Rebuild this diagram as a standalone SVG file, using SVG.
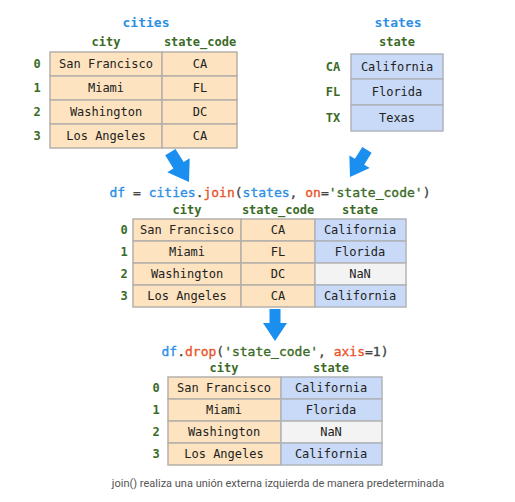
<svg xmlns="http://www.w3.org/2000/svg" width="515" height="502" viewBox="0 0 515 502">
<style>
  .cell { font-family: "DejaVu Sans Mono", "Liberation Mono", monospace; font-size: 12px; fill: #222; text-anchor: middle; dominant-baseline: central; }
  .hdr { font-family: "DejaVu Sans Mono", "Liberation Mono", monospace; font-size: 12px; font-weight: bold; fill: #3b6b26; text-anchor: middle; dominant-baseline: central; }
  .idx { font-family: "DejaVu Sans Mono", "Liberation Mono", monospace; font-size: 12px; font-weight: bold; fill: #3b6b26; text-anchor: middle; dominant-baseline: central; }
  .title { font-family: "DejaVu Sans Mono", "Liberation Mono", monospace; font-size: 13px; font-weight: bold; fill: #2b8fe6; text-anchor: middle; dominant-baseline: central; }
  .code { font-family: "DejaVu Sans Mono", "Liberation Mono", monospace; font-size: 13px; fill: #444; stroke: currentColor; text-anchor: middle; dominant-baseline: central; }
  .code tspan, .code { stroke-width: 0.35; }
  .code { color: #444; }
  .b { fill: #2b8fe6; stroke: #2b8fe6; }
  .o { fill: #e8552c; stroke: #e8552c; }
  .g { fill: #3b6b26; stroke: #3b6b26; }
  .or { fill: #fde3bf; stroke: #b5b0aa; stroke-width: 1.5; }
  .bl { fill: #c9daf8; stroke: #b0b4bb; stroke-width: 1.5; }
  .gr { fill: #f3f3f3; stroke: #b5b5b5; stroke-width: 1.5; }
  .arrow { fill: #1a8ff0; }
  .cap { font-family: Roboto, "Liberation Sans", sans-serif; font-size: 11px; fill: #555; text-anchor: middle; dominant-baseline: central; }
</style>
<defs>
  <path id="arr" d="M-5.5,-32 L5.5,-32 L5.5,-18 L12,-18 L0,0 L-12,-18 L-5.5,-18 Z"/>
</defs>
<rect width="515" height="502" fill="#ffffff"/>

<g id="cities">
  <text class="title" x="146" y="22">cities</text>
  <text class="hdr" x="106" y="42">city</text>
  <text class="hdr" x="200" y="42">state_code</text>
  <rect class="or" x="50" y="52" width="112" height="24"/>
  <rect class="or" x="162" y="52" width="75" height="24"/>
  <rect class="or" x="50" y="76" width="112" height="24"/>
  <rect class="or" x="162" y="76" width="75" height="24"/>
  <rect class="or" x="50" y="100" width="112" height="24"/>
  <rect class="or" x="162" y="100" width="75" height="24"/>
  <rect class="or" x="50" y="124" width="112" height="24"/>
  <rect class="or" x="162" y="124" width="75" height="24"/>
  <text class="idx" x="37" y="64">0</text>
  <text class="idx" x="37" y="88">1</text>
  <text class="idx" x="37" y="112">2</text>
  <text class="idx" x="37" y="136">3</text>
  <text class="cell" x="106" y="64">San Francisco</text>
  <text class="cell" x="200" y="64">CA</text>
  <text class="cell" x="106" y="88">Miami</text>
  <text class="cell" x="200" y="88">FL</text>
  <text class="cell" x="106" y="112">Washington</text>
  <text class="cell" x="200" y="112">DC</text>
  <text class="cell" x="106" y="136">Los Angeles</text>
  <text class="cell" x="200" y="136">CA</text>
</g>

<g id="states">
  <text class="title" x="398" y="22">states</text>
  <text class="hdr" x="397" y="42">state</text>
  <rect class="bl" x="351" y="54" width="92" height="25"/>
  <rect class="bl" x="351" y="79" width="92" height="26"/>
  <rect class="bl" x="351" y="105" width="92" height="26"/>
  <text class="idx" x="333" y="67">CA</text>
  <text class="idx" x="333" y="92">FL</text>
  <text class="idx" x="333" y="118">TX</text>
  <text class="cell" x="397" y="67">California</text>
  <text class="cell" x="397" y="92">Florida</text>
  <text class="cell" x="397" y="118">Texas</text>
</g>

<g id="joined">
  <text class="code" x="270" y="192"><tspan class="b">df</tspan> = <tspan class="b">cities</tspan>.<tspan class="o">join</tspan>(<tspan class="b">states</tspan>, <tspan class="o">on</tspan>=<tspan class="g">'state_code'</tspan>)</text>
  <text class="hdr" x="187" y="210">city</text>
  <text class="hdr" x="278" y="210">state_code</text>
  <text class="hdr" x="360" y="210">state</text>
  <rect class="or" x="133" y="219" width="108" height="22"/>
  <rect class="or" x="241" y="219" width="74" height="22"/>
  <rect class="bl" x="315" y="219" width="91" height="22"/>
  <rect class="or" x="133" y="241" width="108" height="22"/>
  <rect class="or" x="241" y="241" width="74" height="22"/>
  <rect class="bl" x="315" y="241" width="91" height="22"/>
  <rect class="or" x="133" y="263" width="108" height="22"/>
  <rect class="or" x="241" y="263" width="74" height="22"/>
  <rect class="gr" x="315" y="263" width="91" height="22"/>
  <rect class="or" x="133" y="285" width="108" height="22"/>
  <rect class="or" x="241" y="285" width="74" height="22"/>
  <rect class="bl" x="315" y="285" width="91" height="22"/>
  <text class="idx" x="124" y="230">0</text>
  <text class="idx" x="124" y="252">1</text>
  <text class="idx" x="124" y="274">2</text>
  <text class="idx" x="124" y="296">3</text>
  <text class="cell" x="187" y="230">San Francisco</text>
  <text class="cell" x="278" y="230">CA</text>
  <text class="cell" x="360" y="230">California</text>
  <text class="cell" x="187" y="252">Miami</text>
  <text class="cell" x="278" y="252">FL</text>
  <text class="cell" x="360" y="252">Florida</text>
  <text class="cell" x="187" y="274">Washington</text>
  <text class="cell" x="278" y="274">DC</text>
  <text class="cell" x="360" y="274">NaN</text>
  <text class="cell" x="187" y="296">Los Angeles</text>
  <text class="cell" x="278" y="296">CA</text>
  <text class="cell" x="360" y="296">California</text>
</g>

<g id="dropped">
  <text class="code" x="275" y="351"><tspan class="b">df</tspan>.<tspan class="o">drop</tspan>(<tspan class="g">'state_code'</tspan>, <tspan class="o">axis</tspan>=1)</text>
  <text class="hdr" x="224" y="368">city</text>
  <text class="hdr" x="331" y="368">state</text>
  <rect class="or" x="168" y="377" width="113" height="22"/>
  <rect class="bl" x="281" y="377" width="101" height="22"/>
  <rect class="or" x="168" y="399" width="113" height="22"/>
  <rect class="bl" x="281" y="399" width="101" height="22"/>
  <rect class="or" x="168" y="421" width="113" height="22"/>
  <rect class="gr" x="281" y="421" width="101" height="22"/>
  <rect class="or" x="168" y="443" width="113" height="22"/>
  <rect class="bl" x="281" y="443" width="101" height="22"/>
  <text class="idx" x="156" y="388">0</text>
  <text class="idx" x="156" y="410">1</text>
  <text class="idx" x="156" y="432">2</text>
  <text class="idx" x="156" y="454">3</text>
  <text class="cell" x="224" y="388">San Francisco</text>
  <text class="cell" x="331" y="388">California</text>
  <text class="cell" x="224" y="410">Miami</text>
  <text class="cell" x="331" y="410">Florida</text>
  <text class="cell" x="224" y="432">Washington</text>
  <text class="cell" x="331" y="432">NaN</text>
  <text class="cell" x="224" y="454">Los Angeles</text>
  <text class="cell" x="331" y="454">California</text>
</g>

<g id="connectors">
  <use href="#arr" class="arrow" transform="translate(189,182) rotate(-32) scale(1.1)"/>
  <use href="#arr" class="arrow" transform="translate(350,177) rotate(32)"/>
  <use href="#arr" class="arrow" transform="translate(275,341)"/>
</g>

<text class="cap" x="278" y="483">join() realiza una unión externa izquierda de manera predeterminada</text>
</svg>
